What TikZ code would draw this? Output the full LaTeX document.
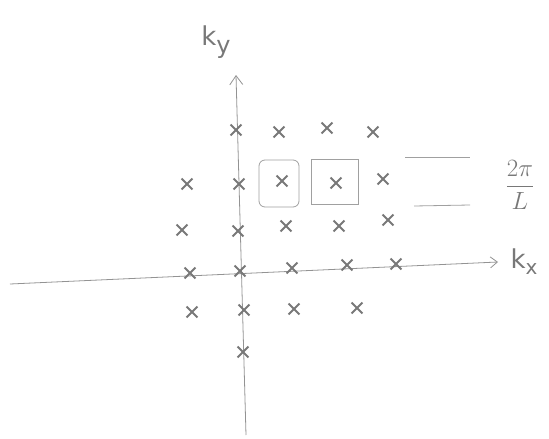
\documentclass[tikz,border=0pt]{standalone}
\usepackage{fontspec}
\setmainfont{DejaVu Sans}
\usetikzlibrary{shapes.misc,arrows.meta}
\definecolor{pencil}{RGB}{120,120,120}
\tikzset{
  pt/.style={cross out,draw=pencil,line width=1.8pt,minimum size=9pt,inner sep=0pt},
  ax/.style={draw=pencil!80,line width=0.8pt},
  thin/.style={draw=pencil!70,line width=0.8pt},
  lbl/.style={text=pencil,font=\fontsize{26}{28}\selectfont,inner sep=0pt}
}
\begin{document}
\begin{tikzpicture}[x=1pt,y=-1pt]
\useasboundingbox (0,0) rectangle (549,439);
% axes
\coordinate (xs) at (10,284);
\coordinate (xe) at (498,262);
\coordinate (ys) at (246,435);
\coordinate (ye) at (236,75);
\draw[ax,-{Straight Barb[length=7pt,width=11pt]}] (xs) -- (xe);
\draw[ax,-{Straight Barb[length=9pt,width=13pt]}] (ys) -- (ye);
\node[lbl] (kx) at (524,262) {k\raisebox{-6pt}{\fontsize{20}{22}\selectfont x}};
\node[lbl] (ky) at (216,42) {k\raisebox{-8pt}{\fontsize{24}{26}\selectfont y}};
% lattice points
\node[pt] (p11) at (236,130) {};
\node[pt] (p12) at (279,132) {};
\node[pt] (p13) at (327,128) {};
\node[pt] (p14) at (373,132) {};
\node[pt] (p21) at (187,184) {};
\node[pt] (p22) at (239,184) {};
\node[pt] (p23) at (282,181) {};
\node[pt] (p24) at (336,183) {};
\node[pt] (p25) at (383,179) {};
\node[pt] (p31) at (182,230) {};
\node[pt] (p32) at (238,231) {};
\node[pt] (p33) at (286,226) {};
\node[pt] (p34) at (339,226) {};
\node[pt] (p35) at (388,220) {};
\node[pt] (p41) at (190,273) {};
\node[pt] (p42) at (240,271) {};
\node[pt] (p43) at (292,268) {};
\node[pt] (p44) at (347,265) {};
\node[pt] (p45) at (396,264) {};
\node[pt] (p51) at (192,312) {};
\node[pt] (p52) at (244,310) {};
\node[pt] (p53) at (294,309) {};
\node[pt] (p54) at (357,308) {};
\node[pt] (p61) at (243,352) {};
% cells
\draw[thin,rounded corners=6pt] (259,160) rectangle (299,207);
\draw[thin] (311,159) rectangle (358,204);
% scale bars
\coordinate (b1a) at (405,157);
\coordinate (b1b) at (470,157);
\coordinate (b2a) at (414,206);
\coordinate (b2b) at (470,205);
\draw[thin] (b1a) -- (b1b);
\draw[thin] (b2a) -- (b2b);
\node[text=pencil,inner sep=0pt,font=\fontsize{24}{26}\selectfont] (lab) at (520,185) {$\displaystyle\frac{2\pi}{L}$};
\end{tikzpicture}
\end{document}
